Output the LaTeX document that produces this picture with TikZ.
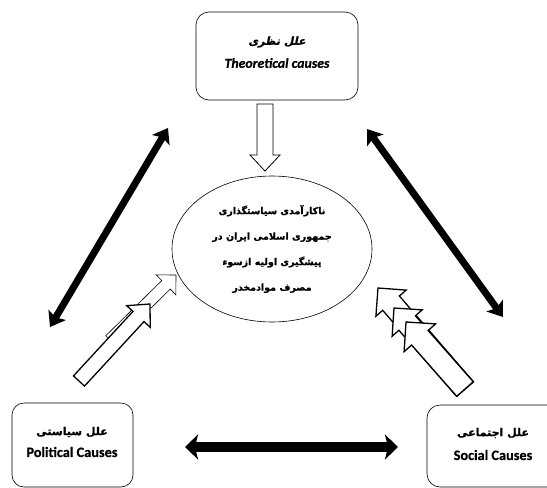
\documentclass[tikz,border=0pt]{standalone}
\usepackage{fontspec}
\setmainfont{Carlito}[BoldFont={Carlito Bold}, BoldItalicFont={Carlito Bold Italic}, BoldFeatures={FakeBold=0.5}, BoldItalicFeatures={FakeBold=0.5}]
\newfontfamily\fa[Script=Arabic, BoldFont={DejaVu Sans Bold}, BoldFeatures={FakeBold=1}]{DejaVu Sans}
\newfontfamily\fasl[Script=Arabic, FakeSlant=0.2, BoldFont={DejaVu Sans Bold}, BoldFeatures={FakeBold=1,FakeSlant=0.2}]{DejaVu Sans}
\TeXXeTstate=1
\usetikzlibrary{arrows.meta,calc,shapes.geometric}

% #1 style, #2 tail, #3 tip, #4 shaft half width, #5 head half width, #6 head length
\newcommand\blkarrow[6][]{%
  \coordinate (bb) at ($(#3)!#6!(#2)$);
  \draw[blk,#1] ($(#2)!#4!90:(#3)$) -- ($(bb)!#4!90:(#3)$) -- ($(bb)!#5!90:(#3)$)
    -- (#3) -- ($(bb)!#5!-90:(#3)$) -- ($(bb)!#4!-90:(#3)$) -- ($(#2)!#4!-90:(#3)$) -- cycle;}

\tikzset{
  box/.style={draw, rounded corners=13pt, line width=0.6pt, inner sep=0pt},
  fatxt/.style={inner sep=0pt, font=\fa\bfseries\fontsize{11}{13}\selectfont},
  latxt/.style={inner sep=0pt, font=\bfseries\fontsize{14.3}{16}\selectfont},
  blk/.style={draw, fill=white, line width=1.2pt, line join=miter},
  dbl/.style={line width=7pt, {Stealth[length=14pt,width=20pt,inset=3pt]}-{Stealth[length=14pt,width=20pt,inset=3pt]}},
  hdbl/.style={line width=10pt, {Stealth[length=13pt,width=25pt,inset=3pt]}-{Stealth[length=13pt,width=25pt,inset=3pt]}},
}

\begin{document}
\begin{tikzpicture}[x=1pt,y=-1pt]
\useasboundingbox (0,0) rectangle (547,488);

% boxes
\node[box, minimum width=162pt, minimum height=88pt] (theo) at (277,56) {};
\node[fatxt, font=\fasl\bfseries\fontsize{11}{13}\selectfont] (theofa) at (277,42) {\beginR علل نظری\endR};
\node[latxt, font=\bfseries\itshape\fontsize{13.8}{16}\selectfont] (theoen) at (277,63) {Theoretical causes};

\node[box, rounded corners=12pt, minimum width=121pt, minimum height=84pt] (pol) at (72.5,445) {};
\node[fatxt] (polfa) at (72,432) {\beginR علل سیاستی\endR};
\node[latxt] (polen) at (72,452) {Political Causes};

\node[box, minimum width=133pt, minimum height=82pt] (soc) at (493.5,446) {};
\node[fatxt] (socfa) at (493,433) {\beginR علل اجتماعی\endR};
\node[latxt] (socen) at (493,455) {Social Causes};

% central ellipse
\node[draw, ellipse, line width=0.6pt, minimum width=200pt, minimum height=146pt, inner sep=0pt,
  align=center, font=\fa\bfseries\fontsize{9.5}{25.5}\selectfont] (core) at (272,249)
  {\beginR ناکارآمدی سیاستگذاری\endR\\
   \beginR جمهوری اسلامی ایران در\endR\\
   \beginR پیشگیری اولیه ازسوء\endR\\
   \beginR مصرف موادمخدر\endR};

% double arrows
\coordinate (l1) at (168,128); \coordinate (l2) at (50,327);
\coordinate (r1) at (367,129); \coordinate (r2) at (503,317);
\coordinate (h1) at (185,447); \coordinate (h2) at (398,447);
\draw[dbl] (l1) -- (l2);
\draw[dbl] (r1) -- (r2);
\draw[hdbl] (h1) -- (h2);

% block arrows
\coordinate (tT) at (265,104); \coordinate (tP) at (265,171);
\blkarrow[line width=0.8pt]{tT}{tP}{8pt}{15pt}{16pt}

\coordinate (sT) at (110,340); \coordinate (sP) at (176,275);
\blkarrow[line width=0.6pt]{sT}{sP}{6pt}{14pt}{14pt}
\coordinate (bT) at (79,381); \coordinate (bP) at (150,304);
\blkarrow[line width=1.3pt]{bT}{bP}{7.5pt}{16pt}{17pt}

\coordinate (rT) at (465,389);
\coordinate (rA) at (378,288); \coordinate (rB) at (394,308); \coordinate (rC) at (406,322);
\blkarrow[line width=1.3pt]{rT}{rA}{11pt}{20pt}{20pt}
\blkarrow[line width=1.3pt]{rT}{rB}{11pt}{20pt}{20pt}
\blkarrow[line width=1.3pt]{rT}{rC}{11pt}{21pt}{21pt}
\end{tikzpicture}
\end{document}
